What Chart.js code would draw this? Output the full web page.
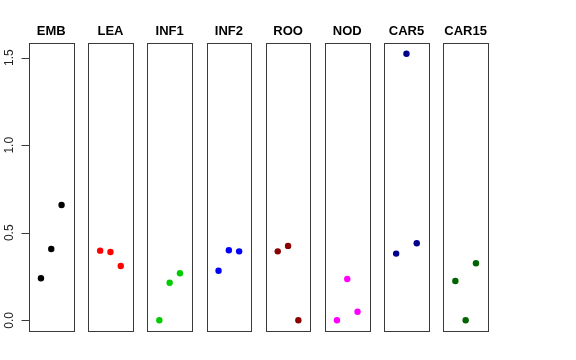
<!DOCTYPE html>
<html>
<head>
<meta charset="utf-8">
<script src="https://cdn.jsdelivr.net/npm/chart.js@4.4.1/dist/chart.umd.min.js"></script>
<style>
  html, body { margin: 0; padding: 0; background: #ffffff; }
  #wrap { position: relative; width: 576px; height: 360px; overflow: hidden; background: #ffffff; }
  #wrap canvas { position: absolute; left: 0; top: 0; }
</style>
</head>
<body>
<div id="wrap"></div>
<script>
// ---- data ----
const panelNames = ['EMB', 'LEA', 'INF1', 'INF2', 'ROO', 'NOD', 'CAR5', 'CAR15'];
const panelColors = ['#000000', '#FF0000', '#00CD00', '#0000FF', '#8B0000', '#FF00FF', '#00008B', '#006400'];
const xPositions = [1, 2, 3];
const EMB   = [0.240, 0.407, 0.659];
const LEA   = [0.398, 0.390, 0.310];
const INF1  = [0.000, 0.215, 0.269];
const INF2  = [0.283, 0.400, 0.394];
const ROO   = [0.394, 0.425, 0.000];
const NOD   = [0.000, 0.236, 0.049];
const CAR5  = [0.381, 1.523, 0.440];
const CAR15 = [0.225, 0.000, 0.326];
const seriesValues = [EMB, LEA, INF1, INF2, ROO, NOD, CAR5, CAR15];
const yTicks = [0, 0.5, 1.0, 1.5];
const yTickLabels = ['0.0', '0.5', '1.0', '1.5'];

// ---- layout / style ----
const W = 576, H = 360;
const firstLeft = 29, step = 59.2, boxWidth = 44.5;
const FONT = '"Liberation Sans", Arial, Helvetica, sans-serif';

const boxPlugin = {
  id: 'panelBox',
  afterDatasetsDraw(chart) {
    const a = chart.chartArea, c = chart.ctx;
    c.save();
    c.strokeStyle = '#3a3a3a';
    c.lineWidth = 1;
    const l = Math.round(a.left) + 0.5, r = Math.round(a.right) + 0.5;
    const t = Math.round(a.top) + 0.5, b = Math.round(a.bottom) + 0.5;
    c.strokeRect(l, t, r - l, b - t);
    c.restore();
  }
};

const yAxisPlugin = {
  id: 'rAxis',
  afterDraw(chart) {
    const ys = chart.scales.y, a = chart.chartArea, c = chart.ctx;
    const x0 = Math.round(a.left) + 0.5;
    c.save();
    c.strokeStyle = '#3a3a3a';
    c.lineWidth = 1;
    c.beginPath();
    const yTop = Math.round(ys.getPixelForValue(yTicks[yTicks.length - 1])) + 0.5;
    const yBot = Math.round(ys.getPixelForValue(yTicks[0])) + 0.5;
    c.moveTo(x0, yTop); c.lineTo(x0, yBot);
    yTicks.forEach(v => {
      const py = Math.round(ys.getPixelForValue(v)) + 0.5;
      c.moveTo(x0 - 8, py); c.lineTo(x0, py);
    });
    c.stroke();
    c.fillStyle = '#222222';
    c.font = '12px ' + FONT;
    c.textAlign = 'center';
    c.textBaseline = 'alphabetic';
    yTicks.forEach((v, i) => {
      const py = ys.getPixelForValue(v);
      c.save();
      c.translate(12.5, py);
      c.rotate(-Math.PI / 2);
      c.fillText(yTickLabels[i], 0, 0);
      c.restore();
    });
    c.restore();
  }
};

const wrap = document.getElementById('wrap');
panelNames.forEach((name, i) => {
  const cv = document.createElement('canvas');
  cv.width = W; cv.height = H;
  cv.style.width = W + 'px'; cv.style.height = H + 'px';
  wrap.appendChild(cv);
  const left = firstLeft + step * i;
  const right = W - (left + boxWidth);
  const plugins = [boxPlugin];
  if (i === 0) plugins.push(yAxisPlugin);
  new Chart(cv.getContext('2d'), {
    type: 'scatter',
    data: {
      datasets: [{
        label: name,
        data: xPositions.map((x, k) => ({ x: x, y: seriesValues[i][k] })),
        backgroundColor: panelColors[i],
        borderColor: panelColors[i],
        borderWidth: 0,
        pointRadius: 3.2,
        pointHoverRadius: 3.2
      }]
    },
    options: {
      responsive: false,
      animation: false,
      events: [],
      layout: { padding: { left: left, right: right, top: 0, bottom: 29 } },
      plugins: {
        legend: { display: false },
        tooltip: { enabled: false },
        title: {
          display: true,
          text: name,
          color: '#000000',
          font: { family: FONT, size: 13, weight: 'bold', lineHeight: 1.2 },
          padding: { top: 23.5, bottom: 3.9 }
        }
      },
      scales: {
        x: { type: 'linear', display: false, min: -0.16, max: 4.16 },
        y: { type: 'linear', display: false, min: -0.061, max: 1.584 }
      }
    },
    plugins: plugins
  });
});
</script>
</body>
</html>
